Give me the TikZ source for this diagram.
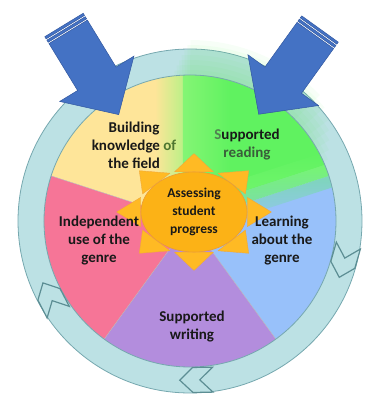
\documentclass[tikz,border=0pt]{standalone}
\usepackage{fontspec}
\setmainfont{Carlito}

\definecolor{ringfill}{RGB}{188,225,228}
\definecolor{ringline}{RGB}{118,168,175}
\definecolor{yellowS}{RGB}{254,229,153}
\definecolor{limeS}{RGB}{188,240,135}
\definecolor{greenS}{RGB}{96,242,96}
\definecolor{greenL}{RGB}{118,246,112}
\definecolor{tealS}{RGB}{125,214,185}
\definecolor{blueS}{RGB}{152,193,250}
\definecolor{purpleS}{RGB}{179,141,221}
\definecolor{pinkS}{RGB}{246,117,151}
\definecolor{sunfill}{RGB}{252,178,22}
\definecolor{sunline}{RGB}{236,156,52}
\definecolor{rayfill}{RGB}{255,186,36}
\definecolor{rayline}{RGB}{240,168,60}
\definecolor{arrowfill}{RGB}{68,114,196}
\definecolor{arrowline}{RGB}{50,88,160}
\definecolor{markline}{RGB}{92,142,148}
\definecolor{ofgreen}{RGB}{78,118,48}
\definecolor{sgreen}{RGB}{82,128,82}
\definecolor{rgreen}{RGB}{58,92,58}

\begin{document}
\begin{tikzpicture}[
    x=1pt, y=1pt,
    phase/.style={font=\fontsize{15}{18}\selectfont\bfseries, align=center, text=black!90},
    sector/.style={draw=gray!55, line width=0.4pt},
    ray/.style={fill=rayfill, draw=rayline, line width=0.4pt, line join=round},
    chevron/.style={fill=ringfill, draw=markline, line width=1.2pt, line join=miter},
    bigarrow/.style={fill=arrowfill, draw=arrowline, line width=0.5pt}
]

\useasboundingbox (-190,-173) rectangle (176,221);

% Outer ring
\fill[ringfill, even odd rule] (0,0) circle (172) (0,0) circle (146);
\draw[ringline, line width=0.8pt] (0,0) circle (172);

% Glow around the reading phase
\foreach \w/\s/\e in {10/24/96, 20/27/95, 30/30/94, 40/33/93, 50/36/92, 60/40/91, 70/44/90}
    \draw[greenS, opacity=0.05, line width=\w] (\s:146) arc[start angle=\s, end angle=\e, radius=146];

% The five phases
\fill[yellowS] (0,0) -- (90:146) arc[start angle=90, end angle=162, radius=146] -- cycle;
\fill[greenS] (0,0) -- (18:146) arc[start angle=18, end angle=90, radius=146] -- cycle;
\fill[blueS] (0,0) -- (-54:146) arc[start angle=-54, end angle=18, radius=146] -- cycle;
\fill[purpleS] (0,0) -- (-126:146) arc[start angle=-126, end angle=-54, radius=146] -- cycle;
\fill[pinkS] (0,0) -- (162:146) arc[start angle=162, end angle=234, radius=146] -- cycle;

% Soft edges of the reading phase
\begin{scope}
    \clip (0,0) circle (146);
    \shade[left color=yellowS, right color=limeS] (-35,0) rectangle (-7,150);
    \shade[left color=greenL!80!limeS, right color=greenS] (-7,0) rectangle (40,150);
    \begin{scope}[rotate=18]
        \shade[bottom color=blueS, top color=tealS] (0,-12) rectangle (150,0);
        \shade[bottom color=tealS, top color=greenL] (0,0) rectangle (150,12);
        \shade[bottom color=greenL, top color=greenS] (0,12) rectangle (150,24);
    \end{scope}
\end{scope}

\foreach \a in {162,-54,-126}
    \draw[sector] (0,0) -- (\a:146);
\draw[ringline, line width=0.8pt] (0,0) circle (146);

% Direction marks on the ring
\foreach \ang in {-16,-89,207.5} {
    \begin{scope}[shift={(\ang:159)}, rotate=\ang-90]
        \filldraw[chevron] (-20,-12.5) -- (0,-12.5) -- (13,0) -- (0,12.5) -- (-20,12.5) -- (-7,0) -- cycle;
    \end{scope}
}

% Striped arrows coming in
\foreach \px/\py/\ang in {-126/196/-58.6, 130/192/-125.7} {
    \begin{scope}[shift={(\px,\py)}, rotate=\ang]
        \filldraw[bigarrow] (8,-22.5) -- (63,-22.5) -- (63,-43.5) -- (105,0) -- (63,43.5) -- (63,22.5) -- (8,22.5) -- cycle;
        \filldraw[bigarrow] (0,-22.5) rectangle (2.5,22.5);
        \filldraw[bigarrow] (4,-22.5) rectangle (6.5,22.5);
    \end{scope}
}

% Sun in the middle
\begin{scope}[shift={(4,9)}, xscale=53, yscale=40]
    \foreach \a in {0,45,...,315}
        \filldraw[ray] ({\a-20}:1.07) -- (\a:1.46) -- ({\a+20}:1.07) -- cycle;
    \filldraw[fill=sunfill, draw=sunline, line width=0.6pt] (0,0) circle (1);
\end{scope}
\node[phase, font=\fontsize{13.5}{18}\selectfont\bfseries] (assess) at (4,9) {Assessing\\student\\progress};

% Labels
\node[phase] (build) at (-56,76) {Building\\knowledge \textcolor{ofgreen}{of}\\the field};
\node[phase] (read) at (57,76) {\textcolor{sgreen}{S}upported\\\textcolor{rgreen}{reading}};
\node[phase] (learn) at (92,-20) {Learning\\about the\\genre};
\node[phase] (write) at (2,-106) {Supported\\writing};
\node[phase] (indep) at (-91,-20) {Independent\\use of the\\genre};

\end{tikzpicture}
\end{document}
